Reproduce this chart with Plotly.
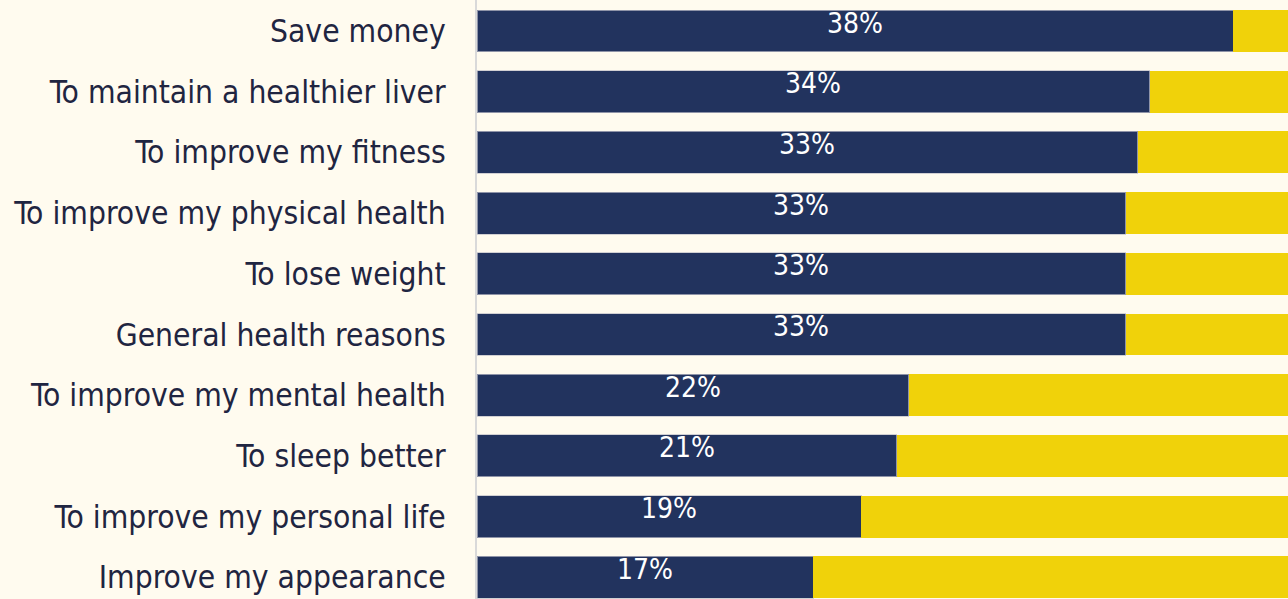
import plotly.graph_objects as go

categories = [
    "Save money",
    "To maintain a healthier liver",
    "To improve my fitness",
    "To improve my physical health",
    "To lose weight",
    "General health reasons",
    "To improve my mental health",
    "To sleep better",
    "To improve my personal life",
    "Improve my appearance",
]
navy_values = [38.0, 33.8, 33.2, 32.6, 32.6, 32.6, 21.7, 21.1, 19.3, 16.9]
navy_labels = ["38%", "34%", "33%", "33%", "33%", "33%", "22%", "21%", "19%", "17%"]
yellow_values = [100 - v for v in navy_values]

NAVY = "#22335E"
YELLOW = "#F0D20A"
BG = "#FFFBEF"
FONT = "DejaVu Sans Condensed, Tahoma, DejaVu Sans, sans-serif"

fig = go.Figure()
fig.add_trace(go.Bar(
    y=categories, x=navy_values, orientation="h", width=0.69,
    marker=dict(color=NAVY, line=dict(color="rgba(190,190,200,0.7)", width=1)),
    hoverinfo="skip", showlegend=False,
))
fig.add_trace(go.Bar(
    y=categories, x=yellow_values, orientation="h", width=0.69,
    marker=dict(color=YELLOW, line=dict(color="rgba(0,0,0,0)", width=0)),
    hoverinfo="skip", showlegend=False,
))

for cat, v, lab in zip(categories, navy_values, navy_labels):
    fig.add_annotation(
        x=v / 2, y=cat, text=lab, showarrow=False, yshift=8,
        font=dict(color="white", size=28, family=FONT),
        xanchor="center", yanchor="middle",
    )

fig.update_layout(
    barmode="stack",
    width=1288, height=599,
    margin=dict(l=477, r=0, t=0, b=0),
    paper_bgcolor=BG, plot_bgcolor=BG,
    xaxis=dict(range=[0, 40.75], showgrid=False, zeroline=False,
               showticklabels=False, fixedrange=True),
    yaxis=dict(
        categoryorder="array", categoryarray=categories,
        range=[9.357, -0.511], showgrid=False, zeroline=False,
        showline=True, linecolor="#D9D9D9", linewidth=2,
        ticks="", ticklabelstandoff=23,
        tickfont=dict(size=31.5, color="#1F2541", family=FONT),
    ),
)

fig.write_html(
    "out.html",
    config={"displayModeBar": False},
    post_script="document.body.style.margin='0';document.body.style.background='%s';" % BG,
)
